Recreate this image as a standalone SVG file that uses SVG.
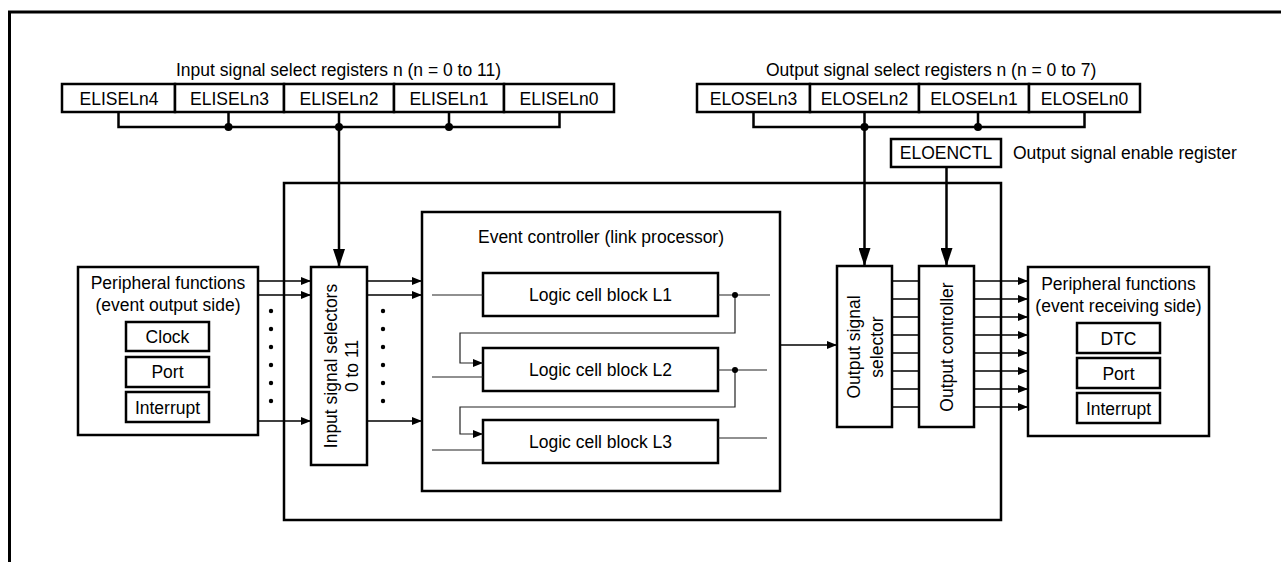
<svg xmlns="http://www.w3.org/2000/svg" width="1281" height="562" viewBox="0 0 1281 562">
<style>
text{font-family:"Liberation Sans",Arial,sans-serif;font-size:17.5px;fill:#000}
.c{text-anchor:middle}
.box{fill:#fff;stroke:#000;stroke-width:2.5}
.bus{fill:none;stroke:#000;stroke-width:2.5}
.sig{fill:none;stroke:#000;stroke-width:1.4}
.thin{fill:none;stroke:#222;stroke-width:1.2}
.dot{fill:#000}
</style>
<defs>
<marker id="aS" markerUnits="userSpaceOnUse" markerWidth="10" markerHeight="8" refX="10" refY="4" orient="auto"><path d="M0,0 L10,4 L0,8 z" fill="#000"/></marker>
<marker id="aL" markerUnits="userSpaceOnUse" markerWidth="18" markerHeight="12" refX="18" refY="6" orient="auto"><path d="M0,0 L18,6 L0,12 z" fill="#000"/></marker>
</defs>
<rect width="1281" height="562" fill="#fff"/>
<path d="M9.5,562 V12 H1281" fill="none" stroke="#000" stroke-width="3"/>

<g id="main-box"><rect class="box" x="284" y="183" width="717" height="337"/></g>

<g id="input-registers">
<text x="176" y="76">Input signal select registers n (n = 0 to 11)</text>
<rect class="box" x="62" y="84" width="113" height="28"/>
<rect class="box" x="175" y="84" width="109" height="28"/>
<rect class="box" x="284" y="84" width="110" height="28"/>
<rect class="box" x="394" y="84" width="110" height="28"/>
<rect class="box" x="504" y="84" width="110" height="28"/>
<text class="c" x="119" y="104.5">ELISELn4</text>
<text class="c" x="229.5" y="104.5">ELISELn3</text>
<text class="c" x="339" y="104.5">ELISELn2</text>
<text class="c" x="449" y="104.5">ELISELn1</text>
<text class="c" x="559" y="104.5">ELISELn0</text>
</g>

<g id="output-registers">
<text x="766" y="76">Output signal select registers n (n = 0 to 7)</text>
<rect class="box" x="697" y="84" width="113" height="28"/>
<rect class="box" x="810" y="84" width="109" height="28"/>
<rect class="box" x="919" y="84" width="110" height="28"/>
<rect class="box" x="1029" y="84" width="111" height="28"/>
<text class="c" x="753.5" y="104.5">ELOSELn3</text>
<text class="c" x="864.5" y="104.5">ELOSELn2</text>
<text class="c" x="974" y="104.5">ELOSELn1</text>
<text class="c" x="1084.5" y="104.5">ELOSELn0</text>
</g>

<g id="eloenctl">
<rect class="box" x="891" y="139" width="110" height="28"/>
<text class="c" x="946" y="159">ELOENCTL</text>
<text x="1013" y="159">Output signal enable register</text>
</g>

<g id="peripheral-out">
<rect class="box" x="78" y="267" width="180" height="168"/>
<text class="c" x="168" y="289">Peripheral functions</text>
<text class="c" x="168" y="311">(event output side)</text>
<rect class="box" x="126" y="322" width="83" height="29"/>
<text class="c" x="167.5" y="343">Clock</text>
<rect class="box" x="126" y="357" width="83" height="30"/>
<text class="c" x="167.5" y="378">Port</text>
<rect class="box" x="126" y="392" width="83" height="30"/>
<text class="c" x="167.5" y="413.5">Interrupt</text>
</g>

<g id="input-selectors">
<rect class="box" x="311" y="267" width="56" height="198"/>
<text class="c" transform="translate(339,366) rotate(-90)"><tspan x="0" y="-2">Input signal selectors</tspan><tspan x="0" y="19">0 to 11</tspan></text>
</g>

<g id="event-controller">
<rect class="box" x="422" y="212" width="358" height="279"/>
<text class="c" x="601" y="243">Event controller (link processor)</text>
</g>
<g id="logic-l1"><rect class="box" x="483" y="273" width="235" height="43"/><text class="c" x="600.5" y="301">Logic cell block L1</text></g>
<g id="logic-l2"><rect class="box" x="483" y="348" width="235" height="43"/><text class="c" x="600.5" y="376">Logic cell block L2</text></g>
<g id="logic-l3"><rect class="box" x="483" y="420" width="235" height="43"/><text class="c" x="600.5" y="448">Logic cell block L3</text></g>

<g id="output-selector">
<rect class="box" x="837" y="266" width="55" height="161"/>
<text class="c" transform="translate(864.5,347) rotate(-90)"><tspan x="0" y="-5">Output signal</tspan><tspan x="0" y="18">selector</tspan></text>
</g>
<g id="output-controller">
<rect class="box" x="919" y="266" width="55" height="161"/>
<text class="c" transform="translate(946.5,347) rotate(-90)" y="6">Output controller</text>
</g>

<g id="peripheral-in">
<rect class="box" x="1028" y="267" width="181" height="169"/>
<text class="c" x="1118.5" y="290">Peripheral functions</text>
<text class="c" x="1118.5" y="312">(event receiving side)</text>
<rect class="box" x="1077" y="323" width="83" height="30"/>
<text class="c" x="1118.5" y="344.5">DTC</text>
<rect class="box" x="1077" y="358" width="83" height="30"/>
<text class="c" x="1118.5" y="379.5">Port</text>
<rect class="box" x="1077" y="393" width="83" height="30"/>
<text class="c" x="1118.5" y="414.5">Interrupt</text>
</g>

<g id="connectors">
<path class="bus" d="M118.5,112 V127 H559.5 V112 M228.5,112 V127 M449,112 V127"/>
<path class="bus" d="M339,112 V267" marker-end="url(#aL)"/>
<circle class="dot" cx="228.5" cy="127" r="4"/>
<circle class="dot" cx="339" cy="127" r="4"/>
<circle class="dot" cx="449" cy="127" r="4"/>

<path class="bus" d="M753.5,112 V127 H1084.5 V112 M978,112 V127"/>
<path class="bus" d="M864.5,112 V266" marker-end="url(#aL)"/>
<circle class="dot" cx="864.5" cy="127" r="4"/>
<circle class="dot" cx="978" cy="127" r="4"/>
<path class="bus" d="M946.5,167 V266" marker-end="url(#aL)"/>

<path class="sig" d="M258,281 H311" marker-end="url(#aS)"/>
<path class="sig" d="M258,295 H311" marker-end="url(#aS)"/>
<path class="sig" d="M258,421 H311" marker-end="url(#aS)"/>
<path class="sig" d="M367,281 H422" marker-end="url(#aS)"/>
<path class="sig" d="M367,295 H422" marker-end="url(#aS)"/>
<path class="sig" d="M367,421 H422" marker-end="url(#aS)"/>
<g class="dot">
<circle cx="271" cy="311" r="2.2"/><circle cx="271" cy="329" r="2.2"/><circle cx="271" cy="347" r="2.2"/><circle cx="271" cy="365" r="2.2"/><circle cx="271" cy="383" r="2.2"/><circle cx="271" cy="401" r="2.2"/>
<circle cx="383" cy="311" r="2.2"/><circle cx="383" cy="329" r="2.2"/><circle cx="383" cy="347" r="2.2"/><circle cx="383" cy="365" r="2.2"/><circle cx="383" cy="383" r="2.2"/><circle cx="383" cy="401" r="2.2"/>
</g>

<path class="thin" d="M432,295 H483 M718,295 H770 M432,377 H483 M718,370 H767 M432,450 H483 M718,438 H767"/>
<path class="thin" d="M735,295 V333 H460 V363 H483" marker-end="url(#aS)"/>
<path class="thin" d="M735,370 V407 H460 V434 H483" marker-end="url(#aS)"/>
<circle class="dot" cx="735" cy="295" r="3"/>
<circle class="dot" cx="735" cy="370" r="3"/>

<path class="sig" d="M780,345 H837" marker-end="url(#aS)"/>

<path class="sig" d="M892,281 H919 M892,299 H919 M892,317 H919 M892,335 H919 M892,353 H919 M892,371 H919 M892,389 H919 M892,407 H919"/>
<path class="sig" d="M974,281 H1028" marker-end="url(#aS)"/>
<path class="sig" d="M974,299 H1028" marker-end="url(#aS)"/>
<path class="sig" d="M974,317 H1028" marker-end="url(#aS)"/>
<path class="sig" d="M974,335 H1028" marker-end="url(#aS)"/>
<path class="sig" d="M974,353 H1028" marker-end="url(#aS)"/>
<path class="sig" d="M974,371 H1028" marker-end="url(#aS)"/>
<path class="sig" d="M974,389 H1028" marker-end="url(#aS)"/>
<path class="sig" d="M974,407 H1028" marker-end="url(#aS)"/>
</g>
</svg>
